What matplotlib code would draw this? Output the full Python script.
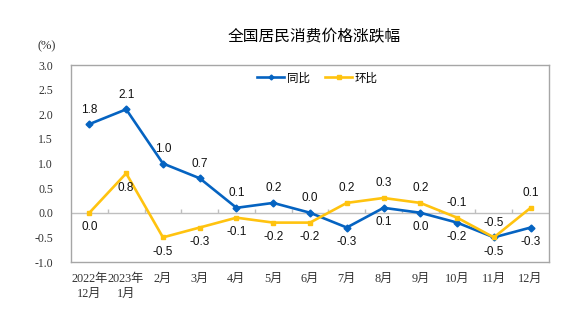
import numpy as np
import matplotlib
matplotlib.use("Agg")
import matplotlib.pyplot as plt
from matplotlib.ticker import FuncFormatter
from matplotlib.lines import Line2D

# Data
months = ["2022年\n12月", "2023年\n1月", "2月", "3月", "4月", "5月", "6月",
          "7月", "8月", "9月", "10月", "11月", "12月"]
yoy = [1.8, 2.1, 1.0, 0.7, 0.1, 0.2, 0.0, -0.3, 0.1, 0.0, -0.2, -0.5, -0.3]
mom = [0.0, 0.8, -0.5, -0.3, -0.1, -0.2, -0.2, 0.2, 0.3, 0.2, -0.1, -0.5, 0.1]
# label side: +1 above, -1 below
yoy_side = [1, 1, 1, 1, 1, 1, 1, -1, -1, -1, -1, -1, -1]
mom_side = [-1, -1, -1, -1, -1, -1, -1, 1, 1, 1, 1, 1, 1]

blue = "#0563C1"
yellow = "#FFC30F"
cjk = ["Noto Sans CJK SC", "DejaVu Sans"]

fig = plt.figure(figsize=(5.86, 3.33), dpi=100)
ax = fig.add_axes([0.1212, 0.2132, 0.8157, 0.5916])

x = np.arange(len(months))
ax.plot(x, yoy, color=blue, lw=1.9, marker="D", ms=3.5, zorder=3)
ax.plot(x, mom, color=yellow, lw=1.9, marker="s", ms=3.5, zorder=3)

# zero line with small category-boundary ticks
ax.axhline(0, color="#BFBFBF", lw=1.0, zorder=1)
ax.vlines(x[:-1] + 0.5, 0, 0.07, color="#BFBFBF", lw=1.0, zorder=1)

for xs, vals, sides in [(x, yoy, yoy_side), (x, mom, mom_side)]:
    for xi, v, s in zip(xs, vals, sides):
        ax.annotate(f"{v:.1f}", (xi, v), xytext=(0, 10.5 * s),
                    textcoords="offset points", ha="center", va="center",
                    fontsize=8.5, family="Liberation Sans", color="#111111")

ax.set_xlim(-0.5, len(months) - 0.5)
ax.set_ylim(-1.0, 3.0)
ax.set_yticks(np.arange(-1.0, 3.01, 0.5))
ax.yaxis.set_major_formatter(FuncFormatter(lambda v, p: f"{v:.1f}"))
ax.tick_params(axis="y", length=0, pad=13, labelsize=8.5, labelcolor="#333333")
for lab in ax.get_yticklabels():
    lab.set_family("Liberation Serif")

ax.set_xticks(x)
ax.set_xticklabels(months, family=["Liberation Serif", "Noto Sans CJK SC"],
                   fontsize=8.8, color="#333333", linespacing=1.35, va="top")
ax.tick_params(axis="x", length=0, pad=8)

for sp in ax.spines.values():
    sp.set_color("#A6A6A6")
    sp.set_linewidth(1.0)

fig.text(0.536, 1 - 37 / 333, "全国居民消费价格涨跌幅", ha="center", va="center",
         fontsize=11.3, family=cjk, color="#000000")
fig.text(47 / 586, 1 - 46 / 333, "(%)", ha="center", va="center",
         fontsize=9, family="Liberation Serif", color="#333333")

handles = [Line2D([], [], color=blue, lw=1.9, marker="D", ms=2.5),
           Line2D([], [], color=yellow, lw=1.9, marker="s", ms=2.5)]
leg = ax.legend(handles, ["同比", "环比"], loc="center", bbox_to_anchor=(0.515, 0.935),
                ncol=2, frameon=False, prop={"family": cjk, "size": 8.3},
                handlelength=2.4, handletextpad=0.2, columnspacing=1.3)

fig.savefig("out.png", dpi=100, facecolor="white")
